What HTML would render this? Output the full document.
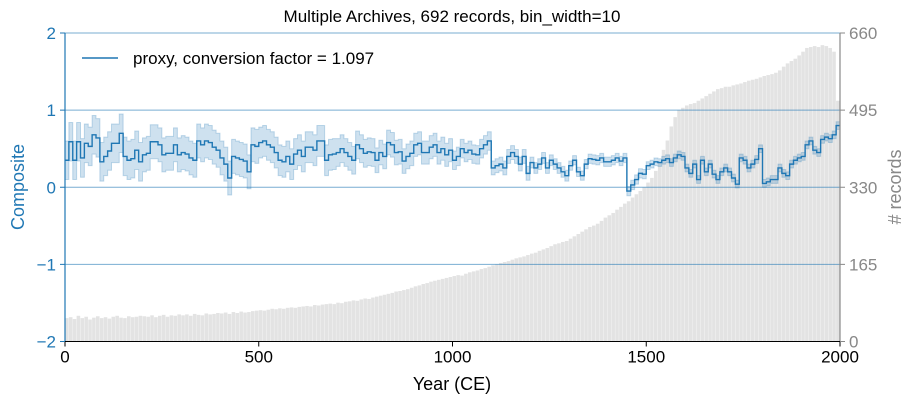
<!DOCTYPE html>
<html><head><meta charset="utf-8">
<style>
html,body{margin:0;padding:0;background:#fff;}
svg{display:block;font-family:"Liberation Sans",Arial,sans-serif;}
</style></head>
<body>
<svg id="chart" width="915" height="403" viewBox="0 0 915 403">
  <text x="452" y="22" text-anchor="middle" font-size="17" fill="#000">Multiple Archives, 692 records, bin_width=10</text>
  <g id="bars"></g>
  <g id="grid"></g>
  <g id="band"></g>
  <g id="series"></g>
  <g id="axes"></g>
  <g>
    <line x1="82" y1="58" x2="118" y2="58" stroke="#1f77b4" stroke-width="1.5"/>
    <text x="133" y="64" font-size="17" fill="#000">proxy, conversion factor = 1.097</text>
  </g>
  <text x="452" y="390" text-anchor="middle" font-size="18" fill="#000">Year (CE)</text>
  <text transform="translate(24,187) rotate(-90)" text-anchor="middle" font-size="18" fill="#1f77b4">Composite</text>
  <text transform="translate(901,187) rotate(-90)" text-anchor="middle" font-size="18" fill="#888"># records</text>
</svg>
<script>
const counts = [
50,52,48,55,50,53,47,51,54,50,
52,49,53,55,51,50,54,52,53,55,
54,53,56,52,55,57,53,56,55,58,
56,58,55,59,57,56,60,58,59,61,
60,62,59,63,61,64,62,63,65,66,
67,66,68,70,69,71,70,72,73,72,
74,75,76,75,78,77,79,80,81,80,
83,82,85,86,88,87,90,92,91,94,
96,98,100,102,104,107,108,110,112,115,
118,120,123,125,128,130,132,134,136,138,
140,142,141,145,148,150,152,155,157,160,
163,165,168,170,172,175,178,180,182,185,
188,190,194,197,200,204,208,210,213,215,
220,225,230,235,240,245,248,252,258,265,
270,275,282,288,295,300,308,315,322,330,
340,350,365,385,410,430,460,480,495,500,
505,508,510,515,520,525,530,535,540,542,
545,545,548,550,552,555,558,560,562,565,
568,570,572,575,580,588,595,600,605,612,
620,628,630,632,630,634,632,628,620,515];
const composite = [
0.35,0.59,0.35,0.59,0.38,0.57,0.53,0.68,0.64,0.33,
0.40,0.47,0.57,0.57,0.70,0.40,0.35,0.37,0.48,0.33,
0.42,0.44,0.59,0.59,0.55,0.42,0.44,0.44,0.55,0.42,
0.45,0.43,0.38,0.35,0.60,0.55,0.60,0.58,0.52,0.48,
0.38,0.30,0.12,0.40,0.38,0.36,0.34,0.20,0.55,0.53,
0.58,0.60,0.55,0.52,0.45,0.35,0.33,0.40,0.30,0.43,
0.48,0.40,0.52,0.52,0.48,0.60,0.60,0.35,0.42,0.43,
0.45,0.50,0.45,0.40,0.35,0.55,0.50,0.44,0.46,0.45,
0.35,0.45,0.40,0.58,0.55,0.45,0.46,0.34,0.40,0.44,
0.55,0.57,0.45,0.45,0.52,0.55,0.45,0.50,0.42,0.48,
0.35,0.40,0.50,0.45,0.48,0.43,0.42,0.50,0.55,0.60,
0.25,0.28,0.30,0.25,0.40,0.45,0.40,0.30,0.40,0.18,
0.32,0.25,0.30,0.38,0.25,0.35,0.30,0.25,0.20,0.15,
0.28,0.35,0.20,0.15,0.30,0.37,0.36,0.35,0.38,0.33,
0.33,0.35,0.38,0.34,0.38,-0.05,0.03,0.10,0.18,0.17,
0.28,0.30,0.33,0.32,0.35,0.37,0.32,0.38,0.42,0.40,
0.25,0.18,0.30,0.10,0.35,0.20,0.30,0.17,0.10,0.20,
0.25,0.20,0.12,0.04,0.38,0.35,0.25,0.30,0.36,0.50,
0.05,0.07,0.10,0.10,0.25,0.18,0.15,0.30,0.35,0.38,
0.40,0.55,0.60,0.48,0.45,0.62,0.65,0.63,0.68,0.80];
const errCentury = [0.25,0.25,0.22,0.22,0.22,0.2,0.2,0.18,0.16,0.15,0.12,0.09,0.07,0.06,0.06,0.05,0.05,0.05,0.05,0.05];
const yearTicks = [0,500,1000,1500,2000];
const compTicks = [-2,-1,0,1,2];
const recTicks = [0,165,330,495,660];
const BIN = 10;

const X0=65,X1=840,YT=33,YB=341.5;
const xs = y => X0 + (y/2000)*(X1-X0);
const ys = v => YB - (v+2)/4*(YB-YT);
const yr = c => YB - c/660*(YB-YT);
const NS='http://www.w3.org/2000/svg';
function mk(tag, attrs, parent){const e=document.createElementNS(NS,tag);for(const k in attrs)e.setAttribute(k,attrs[k]);parent.appendChild(e);return e;}

const gb=document.getElementById('bars');
counts.forEach((c,i)=>{
  const x=xs(i*BIN), w=xs((i+1)*BIN)-x;
  const r=mk('rect',{x:x,y:yr(c),width:w-0.3,height:YB-yr(c),fill:'#e3e3e3'},gb);
  
  
});

const gg=document.getElementById('grid');
[-1,0,1,2].forEach(v=>{
  const l=mk('line',{x1:X0,x2:X1,y1:ys(v),y2:ys(v),stroke:'#1f77b4','stroke-opacity':0.6,'stroke-width':1},gg);
  
  
});

let up='',lo='',line='';
composite.forEach((v,i)=>{
  const e=errCentury[Math.floor(i/10)];
  const xa=xs(i*BIN), xb=xs((i+1)*BIN);
  up+=(i?'L':'M')+xa+','+ys(v+e)+'L'+xb+','+ys(v+e);
  line+=(i?'L':'M')+xa+','+ys(v)+'L'+xb+','+ys(v);
});
for(let i=composite.length-1;i>=0;i--){
  const e=errCentury[Math.floor(i/10)];
  const v=composite[i];
  lo+='L'+xs((i+1)*BIN)+','+ys(v-e)+'L'+xs(i*BIN)+','+ys(v-e);
}
const bp=mk('path',{d:up+lo+'Z',fill:'#1f77b4','fill-opacity':0.22,stroke:'#1f77b4','stroke-opacity':0.25,'stroke-width':1},document.getElementById('band'));


const lp=mk('path',{d:line,fill:'none',stroke:'#1f77b4','stroke-width':1.4},document.getElementById('series'));



const ga=document.getElementById('axes');
mk('line',{x1:X0,x2:X0,y1:YT,y2:YB,stroke:'#1f77b4','stroke-width':1.2},ga);
mk('line',{x1:X1,x2:X1,y1:YT,y2:YB,stroke:'#888','stroke-width':1.2},ga);
mk('line',{x1:X0,x2:X1,y1:YB,y2:YB,stroke:'#000','stroke-width':1},ga);
yearTicks.forEach(t=>{
  mk('line',{x1:xs(t),x2:xs(t),y1:YB,y2:YB+5,stroke:'#000'},ga);
  const tx=mk('text',{x:xs(t),y:YB+21,'text-anchor':'middle','font-size':17,fill:'#000'},ga);
  tx.textContent=t;
  
  
});
compTicks.forEach(t=>{
  mk('line',{x1:X0-5,x2:X0,y1:ys(t),y2:ys(t),stroke:'#1f77b4'},ga);
  const tx=mk('text',{x:X0-9,y:ys(t)+6,'text-anchor':'end','font-size':17,fill:'#1f77b4'},ga);
  tx.textContent=t<0?'\u2212'+(-t):t;
  
  
});
recTicks.forEach(t=>{
  mk('line',{x1:X1,x2:X1+5,y1:yr(t),y2:yr(t),stroke:'#888'},ga);
  const tx=mk('text',{x:X1+9,y:yr(t)+6,'text-anchor':'start','font-size':17,fill:'#888'},ga);
  tx.textContent=t;
  
  
});
</script>
</body></html>
